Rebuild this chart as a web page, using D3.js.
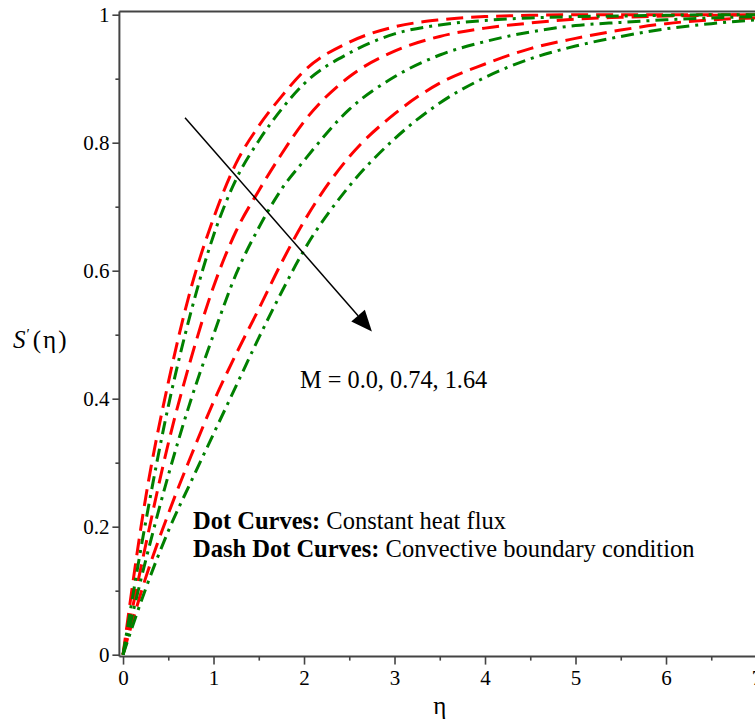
<!DOCTYPE html>
<html>
<head>
<meta charset="utf-8">
<script src="https://cdn.jsdelivr.net/npm/d3@7"></script>
<style>
  html, body { margin: 0; padding: 0; background: #fff; }
  svg { display: block; }
  text { font-family: "Liberation Serif", "Times New Roman", serif; fill: #000; }
</style>
</head>
<body>
<svg id="chart" width="755" height="722"></svg>
<script>
// ---- data ----
const eta = [0, 0.25, 0.5, 0.75, 1, 1.25, 1.5, 1.75, 2, 2.5, 3, 3.5, 4, 4.5, 5, 5.5, 6, 6.5, 7];

// Dot (dashed, red) curves: constant heat flux, M = 0.0, 0.74, 1.64
const heatFluxM0   = [0, 0.245, 0.425, 0.572, 0.682, 0.768, 0.826, 0.872, 0.912, 0.957, 0.981, 0.992, 0.997, 0.999, 1.0, 1.0, 1.0, 1.0, 1.0];
const heatFluxM074 = [0, 0.171, 0.330, 0.462, 0.575, 0.662, 0.725, 0.782, 0.833, 0.903, 0.943, 0.966, 0.979, 0.987, 0.993, 0.996, 0.998, 0.999, 1.0];
const heatFluxM164 = [0, 0.120, 0.220, 0.310, 0.395, 0.470, 0.540, 0.612, 0.677, 0.778, 0.845, 0.893, 0.923, 0.947, 0.963, 0.976, 0.986, 0.992, 0.995];

// Dash-dot (green) curves: convective boundary condition, M = 0.0, 0.74, 1.64
const convectiveM0   = [0, 0.207, 0.388, 0.535, 0.655, 0.743, 0.803, 0.852, 0.892, 0.940, 0.970, 0.984, 0.991, 0.995, 0.997, 0.998, 0.999, 1.0, 1.0];
const convectiveM074 = [0, 0.147, 0.280, 0.398, 0.500, 0.595, 0.667, 0.727, 0.772, 0.852, 0.903, 0.937, 0.958, 0.973, 0.983, 0.988, 0.992, 0.995, 0.997];
const convectiveM164 = [0, 0.103, 0.193, 0.270, 0.345, 0.420, 0.495, 0.566, 0.632, 0.732, 0.806, 0.862, 0.902, 0.931, 0.951, 0.966, 0.978, 0.986, 0.992];

const xMajorTicks = [0, 1, 2, 3, 4, 5, 6, 7];
const xMinorTicks = [0.5, 1.5, 2.5, 3.5, 4.5, 5.5, 6.5];
const yMajorTicks = [0, 0.2, 0.4, 0.6, 0.8, 1];
const yMinorTicks = [0.1, 0.3, 0.5, 0.7, 0.9];
const yTickLabels = ["0", "0.2", "0.4", "0.6", "0.8", "1"];

const annotationText = "M = 0.0, 0.74, 1.64";
const legendLines = [
  { bold: "Dot Curves:", normal: " Constant heat flux" },
  { bold: "Dash Dot Curves:", normal: " Convective boundary condition" }
];

// ---- layout ----
const svg = d3.select("#chart");
svg.append("rect").attr("width", 755).attr("height", 722).attr("fill", "#fff");

const x = d3.scaleLinear().domain([-0.04, 7.0]).range([119.4, 756.5]);
const y = d3.scaleLinear().domain([-0.003, 1.005]).range([656.6, 11.5]);

const axisColor = "#444";

// curves
const series = [
  { values: heatFluxM0,   color: "#ff0000", dash: "17,8" },
  { values: heatFluxM074, color: "#ff0000", dash: "17,8" },
  { values: heatFluxM164, color: "#ff0000", dash: "17,8" },
  { values: convectiveM0,   color: "#008000", dash: "13,6,3,6" },
  { values: convectiveM074, color: "#008000", dash: "13,6,3,6" },
  { values: convectiveM164, color: "#008000", dash: "13,6,3,6" }
];

const line = d3.line()
  .x(d => x(d[0]))
  .y(d => y(d[1]))
  .curve(d3.curveMonotoneX);

svg.append("g").selectAll("path")
  .data(series)
  .join("path")
  .attr("d", s => line(eta.map((e, i) => [e, s.values[i]])))
  .attr("fill", "none")
  .attr("stroke", s => s.color)
  .attr("stroke-width", 3)
  .attr("stroke-dasharray", s => s.dash);

// frame
const frame = svg.append("g").attr("stroke", axisColor).attr("stroke-width", 2).attr("fill", "none");
frame.append("line").attr("x1", x(-0.04)).attr("x2", x(-0.04)).attr("y1", y(-0.003)).attr("y2", y(1.005));
frame.append("line").attr("x1", x(-0.04)).attr("x2", x(7.0)).attr("y1", y(-0.003)).attr("y2", y(-0.003));
frame.append("line").attr("x1", x(-0.04)).attr("x2", x(7.0)).attr("y1", y(1.005)).attr("y2", y(1.005));

// axes
function styleAxis(g) {
  g.select(".domain").remove();
  g.selectAll(".tick line").attr("stroke", axisColor).attr("stroke-width", 1.6);
  g.selectAll(".tick text").attr("font-family", "Liberation Serif").attr("font-size", 21).attr("fill", "#000");
}

svg.append("g")
  .attr("transform", `translate(${x(-0.04)},0)`)
  .call(d3.axisLeft(y).tickValues(yMajorTicks).tickSize(7).tickPadding(3)
        .tickFormat((d, i) => yTickLabels[i]))
  .call(styleAxis);
svg.append("g")
  .attr("transform", `translate(${x(-0.04)},0)`)
  .call(d3.axisLeft(y).tickValues(yMinorTicks).tickSize(4).tickFormat(""))
  .call(styleAxis);

svg.append("g")
  .attr("transform", `translate(0,${y(-0.003)})`)
  .call(d3.axisBottom(x).tickValues(xMajorTicks).tickSize(8).tickPadding(5).tickFormat(d3.format("d")))
  .call(styleAxis);
svg.append("g")
  .attr("transform", `translate(0,${y(-0.003)})`)
  .call(d3.axisBottom(x).tickValues(xMinorTicks).tickSize(4).tickFormat(""))
  .call(styleAxis);

// axis titles
svg.append("text").attr("x", x(3.5)).attr("y", 714).attr("text-anchor", "middle")
  .attr("font-size", 25).text("η");

const yl = svg.append("text").attr("x", 13).attr("y", 348).attr("font-size", 25);
yl.append("tspan").attr("font-style", "italic").text("S");
yl.append("tspan").attr("font-size", 15).attr("dy", -9).attr("dx", 1).text("′");
yl.append("tspan").attr("dy", 9).attr("dx", 3).text("(");
yl.append("tspan").attr("dx", 2).text("η");
yl.append("tspan").attr("dx", 2).text(")");

// arrow annotation (data coordinates)
const arrowStart = [0.685, 0.839];
const arrowEnd = [2.75, 0.505];
const x1 = x(arrowStart[0]), y1 = y(arrowStart[1]);
const x2 = x(arrowEnd[0]), y2 = y(arrowEnd[1]);
const ang = Math.atan2(y2 - y1, x2 - x1);
const headLen = 21, headHalf = 9;
const bx = x2 - headLen * Math.cos(ang), by = y2 - headLen * Math.sin(ang);
svg.append("line").attr("x1", x1).attr("y1", y1).attr("x2", bx).attr("y2", by)
  .attr("stroke", "#000").attr("stroke-width", 1.5);
svg.append("path")
  .attr("d", `M${x2},${y2}L${bx + headHalf * Math.sin(ang)},${by - headHalf * Math.cos(ang)}L${bx - headHalf * Math.sin(ang)},${by + headHalf * Math.cos(ang)}Z`)
  .attr("fill", "#000");

svg.append("text").attr("x", x(1.956)).attr("y", y(0.417)).attr("font-size", 24.3).text(annotationText);

// legend text
const legendPos = [[0.773, 0.196], [0.773, 0.153]];
legendLines.forEach((l, i) => {
  const t = svg.append("text").attr("x", x(legendPos[i][0])).attr("y", y(legendPos[i][1])).attr("font-size", 24.5);
  t.append("tspan").attr("font-weight", "bold").text(l.bold);
  t.append("tspan").attr("xml:space", "preserve").style("white-space", "pre").text(l.normal);
});
</script>
</body>
</html>
